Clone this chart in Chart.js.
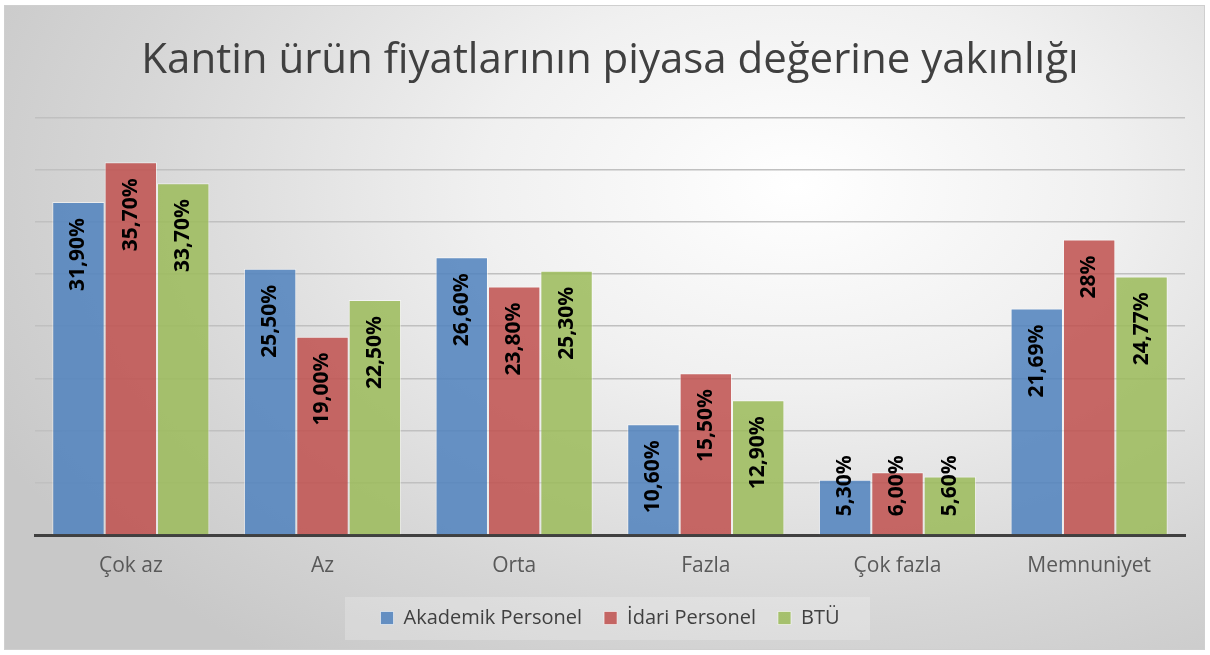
<!DOCTYPE html>
<html>
<head>
<meta charset="utf-8">
<script src="https://cdn.jsdelivr.net/npm/chart.js@4/dist/chart.umd.min.js"></script>
<style>
body{margin:0;width:1210px;height:655px;overflow:hidden;background:#fff;}
#bg{position:absolute;left:4px;top:5px;width:1199px;height:643px;border:1px solid #cfcfcf;
 background:radial-gradient(ellipse 75% 90% at 66% 28%, #ffffff 0%, #f0f0f0 35%, #d6d6d6 75%, #c8c8c8 100%);}
#chart{position:absolute;left:0;top:0;}
</style>
</head>
<body>
<div id="bg"></div>
<canvas id="chart" width="1210" height="655"></canvas>
<script>
const categories = ["Çok az","Az","Orta","Fazla","Çok fazla","Memnuniyet"];
const akademik = [31.9, 25.5, 26.6, 10.6, 5.3, 21.69];
const idari = [35.7, 19.0, 23.8, 15.5, 6.0, 28.3];
const btu = [33.7, 22.5, 25.3, 12.9, 5.6, 24.77];
const akademikLabels = ["31,90%","25,50%","26,60%","10,60%","5,30%","21,69%"];
const idariLabels = ["35,70%","19,00%","23,80%","15,50%","6,00%","28%"];
const btuLabels = ["33,70%","22,50%","25,30%","12,90%","5,60%","24,77%"];
const seriesNames = ["Akademik Personel","İdari Personel","BTÜ"];

const allLabels = [akademikLabels, idariLabels, btuLabels];

// labels written upward inside the bar top, pushed up when the bar is too short
const barLabels = {
    id:'barLabels',
    afterDatasetsDraw(chart){
        const ctx = chart.ctx;
        ctx.save();
        ctx.font = 'bold 21px "Open Sans"';
        ctx.fillStyle = '#000';
        ctx.textAlign = 'center';
        ctx.textBaseline = 'middle';
        chart.data.datasets.forEach((ds,i)=>{
            chart.getDatasetMeta(i).data.forEach((bar,j)=>{
                const txt = allLabels[i][j];
                const w = ctx.measureText(txt).width;
                let start = bar.y + 16;
                if(start + w > bar.base - 18) start = bar.base - 18 - w;
                ctx.save();
                ctx.translate(bar.x, start + w/2);
                ctx.rotate(-Math.PI/2);
                ctx.fillText(txt, 0, 0);
                ctx.restore();
            });
        });
        ctx.restore();
    }
};

// faint lighter box behind the legend
const legendBox = {
    id:'legendBox',
    beforeDraw(chart){
        const ctx = chart.ctx;
        ctx.save();
        ctx.fillStyle = 'rgba(255,255,255,0.22)';
        ctx.fillRect(345, 597, 525, 43);
        ctx.restore();
    }
};

new Chart(document.getElementById('chart'),{
    type:'bar',
    data:{
        labels:categories,
        datasets:[
            {label:seriesNames[0], data:akademik, backgroundColor:'rgba(79,129,189,0.85)', borderColor:'rgba(255,255,255,0.55)', borderWidth:1},
            {label:seriesNames[1], data:idari, backgroundColor:'rgba(192,80,77,0.85)', borderColor:'rgba(255,255,255,0.55)', borderWidth:1},
            {label:seriesNames[2], data:btu, backgroundColor:'rgba(155,187,89,0.85)', borderColor:'rgba(255,255,255,0.55)', borderWidth:1}
        ]
    },
    options:{
        responsive:false,
        animation:false,
        layout:{padding:{left:35, right:25, top:0, bottom:17}},
        datasets:{bar:{barPercentage:1, categoryPercentage:0.82}},
        scales:{
            x:{
                grid:{display:false, drawTicks:false},
                border:{display:true, color:'#404040', width:3},
                ticks:{color:'#595959', font:{family:'"Open Sans"', size:21}, padding:18},
                afterFit(scale){ scale.height = 51; }
            },
            y:{
                min:0, max:40,
                ticks:{display:false, stepSize:5},
                grid:{color:'#c0c0c0', lineWidth:1.5, drawTicks:false},
                border:{display:false}
            }
        },
        plugins:{
            title:{
                display:true,
                text:'Kantin ürün fiyatlarının piyasa değerine yakınlığı',
                color:'#404040',
                font:{family:'"Open Sans"', size:42, weight:'normal'},
                padding:{top:36, bottom:31}
            },
            legend:{
                position:'bottom',
                labels:{
                    color:'#404040',
                    font:{family:'"Open Sans"', size:20},
                    boxWidth:13, boxHeight:13,
                    padding:22
                }
            },
            tooltip:{enabled:false}
        }
    },
    plugins:[legendBox, barLabels]
});
</script>
</body>
</html>
